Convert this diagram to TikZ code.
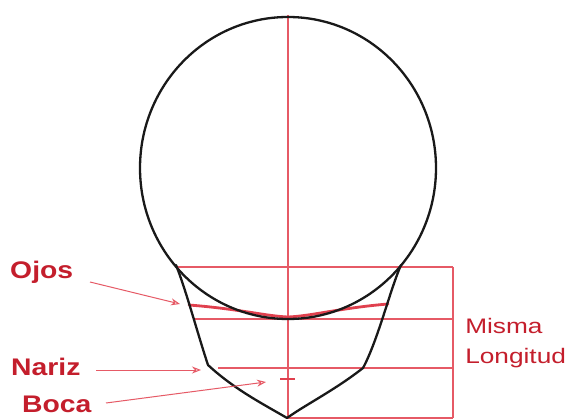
\documentclass[tikz,border=0pt]{standalone}
\usepackage{fontspec}
\setmainfont{Liberation Sans}
\usetikzlibrary{arrows.meta}
\definecolor{labelred}{HTML}{C41E2C}
\definecolor{guidered}{HTML}{E65A66}
\definecolor{eyered}{HTML}{E0404E}
\tikzset{
  guide/.style={guidered, line width=1.2pt},
  pointer/.style={guidered, line width=1pt, -{Stealth[length=9pt,width=7pt,open,line width=1pt]}},
  outline/.style={black!90, line width=2.3pt, line join=round, line cap=round},
  boldlabel/.style={labelred, font=\bfseries\fontsize{24}{26}\selectfont, xscale=1.18, inner sep=0pt, anchor=west},
  plainlabel/.style={labelred, font=\fontsize{21}{23}\selectfont, xscale=1.25, inner sep=0pt, anchor=west}
}
\begin{document}
\begin{tikzpicture}[x=1pt,y=-1pt]
\useasboundingbox (0,0) rectangle (572,419);
\fill[white] (0,0) rectangle (572,419);

% centre line
\draw[guide] (288,15) -- (288,419);

% horizontal guides and the bracket on the right
\draw[guide] (176,267) -- (453,267);
\draw[guide] (195,319) -- (453,319);
\draw[guide] (218,368) -- (453,368);
\draw[guide] (287,418) -- (453,418);
\draw[guide] (453,267) -- (453,418);

% eye line
\draw[eyered, line width=2.8pt, line cap=round]
  (189,305) .. controls (240,309) and (265,316) .. (288,317)
  .. controls (312,316) and (340,308) .. (388,304);

% mouth mark
\draw[eyered, line width=2.2pt] (280,379) -- (295,379);

% head: cranium
\draw[outline] (288,168) ellipse [x radius=148, y radius=151];

% head: jaw
\draw[outline] (176,265) .. controls (186,290) and (198,335) .. (208,365)
  .. controls (235,390) and (265,405) .. (287,418);
\draw[outline] (401,265) .. controls (390,290) and (378,340) .. (363,368)
  .. controls (335,390) and (305,405) .. (287,418);

% labels
\node[boldlabel] (ojos) at (10,272) {Ojos};
\node[boldlabel] (nariz) at (11,367) {Nariz};
\node[boldlabel] (boca) at (22,404) {Boca};
\node[plainlabel] (misma) at (465,326) {Misma};
\node[plainlabel] (longitud) at (465,358) {Longitud};

% pointer targets
\coordinate (eyeTip) at (180,304);
\coordinate (noseTip) at (201,370);
\coordinate (mouthTip) at (266,382);

\draw[pointer] (90,282) -- (eyeTip);
\draw[pointer] (96,370) -- (noseTip);
\draw[pointer] (106,403) -- (mouthTip);
\end{tikzpicture}
\end{document}
